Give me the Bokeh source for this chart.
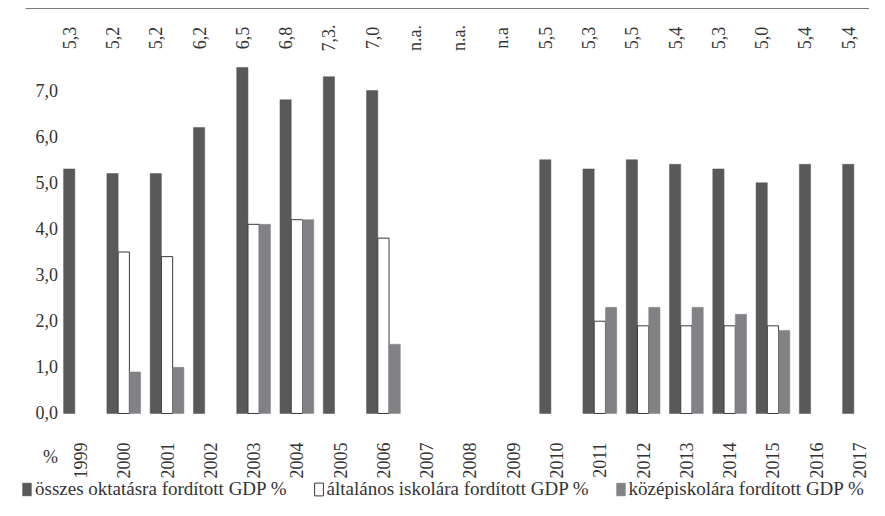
import math
import numpy as np
from bokeh.plotting import figure
from bokeh.models import (ColumnDataSource, Range1d, Legend, LegendItem,
                          BoxAnnotation, FixedTicker)
from bokeh.transform import dodge
from bokeh.core.properties import value
from bokeh.embed import file_html
from bokeh.resources import INLINE

nan = float("nan")
years = list(range(1999, 2018))
total = [5.3, 5.2, 5.2, 6.2, 7.5, 6.8, 7.3, 7.0, nan, nan, nan, 5.5, 5.3, 5.5, 5.4, 5.3, 5.0, 5.4, 5.4]
primary = [nan, 3.5, 3.4, nan, 4.1, 4.2, nan, 3.8, nan, nan, nan, nan, 2.0, 1.9, 1.9, 1.9, 1.9, nan, nan]
secondary = [nan, 0.9, 1.0, nan, 4.1, 4.2, nan, 1.5, nan, nan, nan, nan, 2.3, 2.3, 2.3, 2.15, 1.8, nan, nan]
top_labels = ["5,3", "5,2", "5,2", "6,2", "6,5", "6,8", "7,3.", "7,0", "n.a.", "n.a.", "n.a",
              "5,5", "5,3", "5,5", "5,4", "5,3", "5,0", "5,4", "5,4"]
y_ticks = [0, 1, 2, 3, 4, 5, 6, 7]
y_tick_labels = ["0,0", "1,0", "2,0", "3,0", "4,0", "5,0", "6,0", "7,0"]
unit_label = "%"
series_names = ["összes oktatásra fordított GDP %",
                "általános iskolára fordított GDP %",
                "középiskolára fordított GDP %"]

FONT = "'Liberation Serif', 'Times New Roman', serif"
TXT = "#333333"
DARK = "#58595b"
GRAY = "#808285"

src = ColumnDataSource(dict(year=np.array(years), total=np.array(total),
                            primary=np.array(primary), secondary=np.array(secondary),
                            toplab=top_labels))

p = figure(x_range=Range1d(1997.152, 2017.231), y_range=Range1d(-1.886, 8.951),
           width=869, height=500, output_backend="svg", toolbar_location=None,
           min_border_left=0, min_border_right=0, min_border_top=0, min_border_bottom=0)
p.outline_line_color = None
p.xgrid.visible = False
p.ygrid.visible = False

w = 0.26
r1 = p.vbar(x=dodge("year", -w), top="total", width=w, source=src,
            fill_color=DARK, line_color=DARK, line_width=0.5)
r2 = p.vbar(x=dodge("year", 0), top="primary", width=w, source=src,
            fill_color="white", line_color="#3a3a3a", line_width=1)
r3 = p.vbar(x=dodge("year", w), top="secondary", width=w, source=src,
            fill_color=GRAY, line_color=GRAY, line_width=0.5)

p.text(x=dodge("year", -w), y=8.14, text="toplab", source=src,
       angle=math.pi / 2, text_align="center", text_baseline="middle",
       text_font=value(FONT), text_font_size=value("18px"), text_color=TXT)

# thin rule across the top
p.add_layout(BoxAnnotation(left=1997.73, bottom=8.765, top=8.79,
                           fill_color="#7a7a7a", fill_alpha=1, line_color=None))

for ax in (p.xaxis[0], p.yaxis[0]):
    ax.axis_line_color = None
    ax.major_tick_line_color = None
    ax.minor_tick_line_color = None
    ax.major_tick_out = 0
    ax.major_tick_in = 0
    ax.major_label_text_font = FONT
    ax.major_label_text_font_size = "18px"
    ax.major_label_text_color = TXT

p.yaxis.fixed_location = 1998.62
p.yaxis.ticker = FixedTicker(ticks=[-0.95] + y_ticks)
overrides = {t: l for t, l in zip(y_ticks, y_tick_labels)}
overrides[-0.95] = unit_label
p.yaxis.major_label_overrides = overrides
p.yaxis.major_label_standoff = 6

p.xaxis.fixed_location = 0
p.xaxis.ticker = FixedTicker(ticks=years)
p.xaxis.major_label_overrides = {y: str(y) for y in years}
p.xaxis.major_label_orientation = math.pi / 2
p.xaxis.major_label_standoff = 29

legend = Legend(items=[LegendItem(label=series_names[0], renderers=[r1]),
                       LegendItem(label=series_names[1], renderers=[r2]),
                       LegendItem(label=series_names[2], renderers=[r3])],
                orientation="horizontal", location=(21, 0),
                glyph_width=11, glyph_height=16, label_standoff=3, spacing=26,
                padding=0, margin=0, border_line_color=None, background_fill_alpha=0,
                label_text_font=FONT, label_text_font_size="19px", label_text_color=TXT)
p.add_layout(legend)

open("out.html", "w").write(file_html(p, INLINE))
